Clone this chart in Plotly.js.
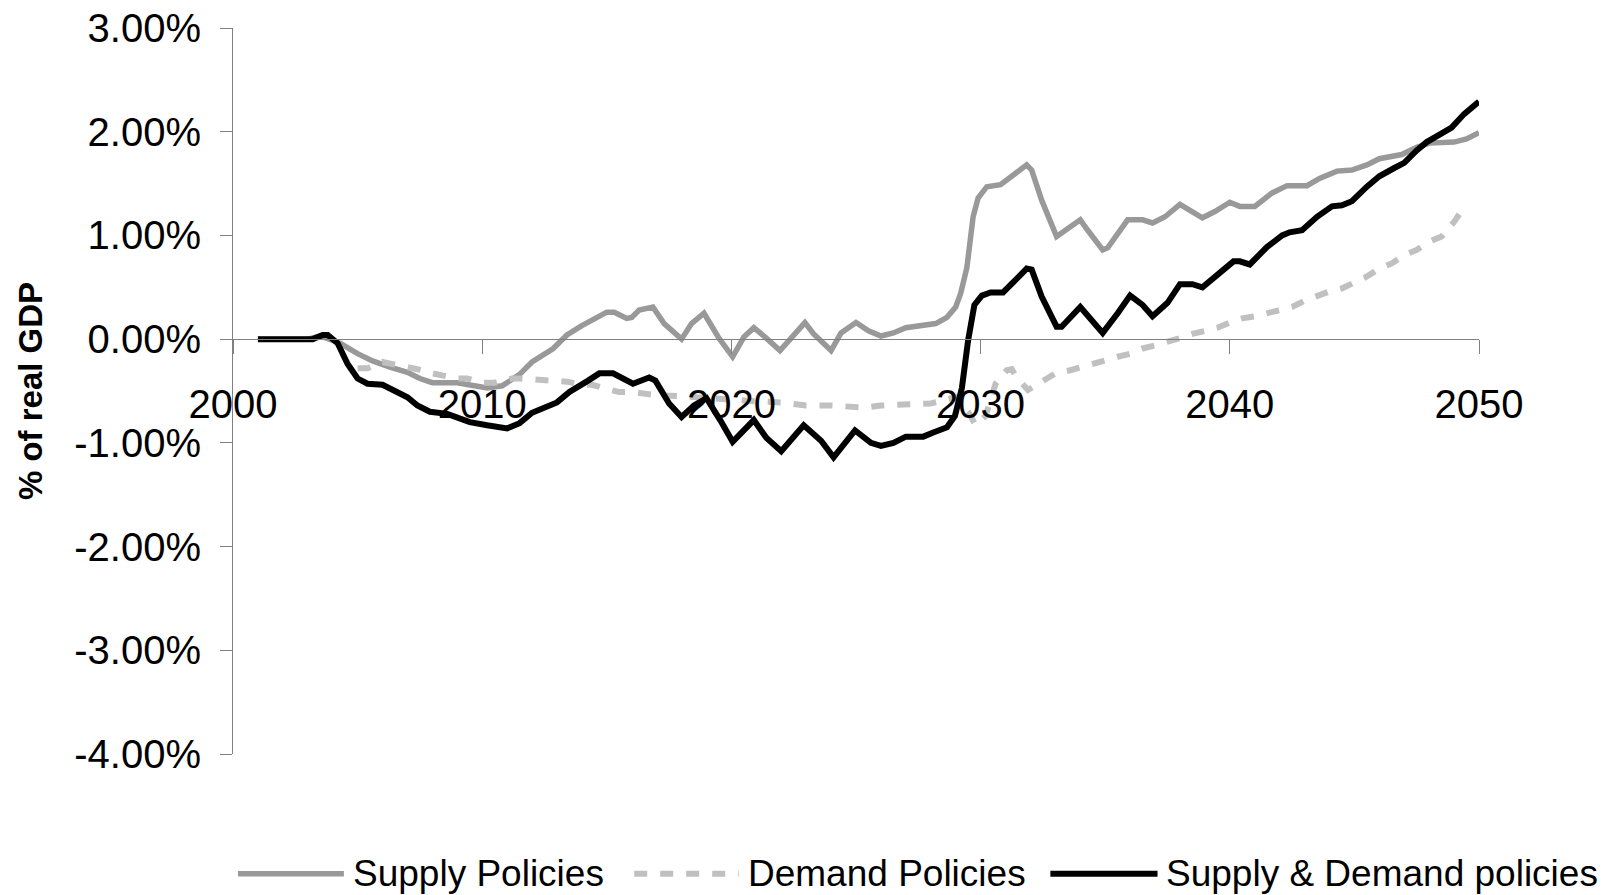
<!DOCTYPE html>
<html>
<head>
<meta charset="utf-8">
<script src="https://cdn.plot.ly/plotly-3.0.1.min.js"></script>
<style>
  html, body { margin: 0; padding: 0; background: #ffffff; }
  #chart { width: 1608px; height: 895px; }
</style>
</head>
<body>
<div id="chart"></div>
<script>
// ---- Data (values in % of real GDP) ----
const seriesNames = ["Supply Policies", "Demand Policies", "Supply & Demand policies"];

const supplyYears = [2001, 2002, 2003, 2003.5, 2003.9, 2004.3, 2005.0, 2005.6, 2006.3, 2007.0, 2007.5, 2008.0, 2009.0, 2009.6, 2010.2, 2010.8, 2011.5, 2012.0, 2012.85, 2013.4, 2014.0, 2015.0, 2015.3, 2015.8, 2016.0, 2016.3, 2016.85, 2017.3, 2018.0, 2018.4, 2018.9, 2019.5, 2020.05, 2020.5, 2020.9, 2021.4, 2021.95, 2022.95, 2023.3, 2024.0, 2024.4, 2025.0, 2025.5, 2026.0, 2026.5, 2027.0, 2027.7, 2028.2, 2028.65, 2029.0, 2029.2, 2029.45, 2029.7, 2029.9, 2030.25, 2030.8, 2031.3, 2031.85, 2032.05, 2032.45, 2033.05, 2033.5, 2034.0, 2034.3, 2034.9, 2035.1, 2035.9, 2036.5, 2036.9, 2037.4, 2038.0, 2038.9, 2039.4, 2040.0, 2040.4, 2041.0, 2041.7, 2042.3, 2043.1, 2043.6, 2044.3, 2044.9, 2045.5, 2046.0, 2046.9, 2047.5, 2048.0, 2049.0, 2049.5, 2050.0];
const supplyValues = [0, 0, 0, 0.03, 0.0, -0.04, -0.14, -0.21, -0.27, -0.32, -0.38, -0.42, -0.42, -0.44, -0.47, -0.45, -0.34, -0.22, -0.09, 0.04, 0.13, 0.26, 0.26, 0.20, 0.21, 0.28, 0.31, 0.15, 0.00, 0.15, 0.25, 0.01, -0.17, 0.02, 0.11, 0.01, -0.11, 0.16, 0.05, -0.11, 0.06, 0.16, 0.08, 0.03, 0.06, 0.11, 0.13, 0.15, 0.21, 0.31, 0.44, 0.69, 1.18, 1.36, 1.47, 1.49, 1.58, 1.68, 1.63, 1.34, 0.99, 1.07, 1.15, 1.05, 0.86, 0.88, 1.15, 1.15, 1.12, 1.18, 1.30, 1.17, 1.23, 1.32, 1.28, 1.28, 1.41, 1.48, 1.48, 1.55, 1.62, 1.63, 1.68, 1.74, 1.78, 1.85, 1.89, 1.90, 1.93, 1.99];

const demandYears = [2005.0, 2005.4, 2006.0, 2006.5, 2007.0, 2007.4, 2008.0, 2008.4, 2009.0, 2009.4, 2010.0, 2010.5, 2011.2, 2011.5, 2012.0, 2012.4, 2012.9, 2013.4, 2014.0, 2014.4, 2015.0, 2015.5, 2016.0, 2017.0, 2018.0, 2019.0, 2020.0, 2021.0, 2022.0, 2022.4, 2023.0, 2024.0, 2025.0, 2025.4, 2026.0, 2027.0, 2028.0, 2028.5, 2029.0, 2029.5, 2029.8, 2030.2, 2030.6, 2030.8, 2031.05, 2031.25, 2031.45, 2031.9, 2032.4, 2033.0, 2033.6, 2034.0, 2034.5, 2035.0, 2035.5, 2036.0, 2036.5, 2037.0, 2037.5, 2038.0, 2038.5, 2039.0, 2039.5, 2040.0, 2040.5, 2041.0, 2041.5, 2042.0, 2042.5, 2043.0, 2043.5, 2044.0, 2044.5, 2045.0, 2045.4, 2046.0, 2046.5, 2047.0, 2047.5, 2048.0, 2048.5, 2049.0, 2049.25];
const demandValues = [-0.28, -0.28, -0.22, -0.24, -0.26, -0.29, -0.33, -0.35, -0.38, -0.38, -0.42, -0.42, -0.38, -0.38, -0.39, -0.39, -0.41, -0.41, -0.44, -0.44, -0.48, -0.51, -0.51, -0.54, -0.55, -0.57, -0.59, -0.60, -0.61, -0.62, -0.64, -0.64, -0.66, -0.66, -0.64, -0.63, -0.62, -0.59, -0.56, -0.70, -0.83, -0.74, -0.43, -0.37, -0.30, -0.29, -0.37, -0.49, -0.42, -0.33, -0.30, -0.27, -0.23, -0.20, -0.17, -0.14, -0.09, -0.06, -0.03, 0.01, 0.05, 0.08, 0.11, 0.16, 0.20, 0.22, 0.25, 0.29, 0.31, 0.37, 0.42, 0.46, 0.49, 0.54, 0.59, 0.68, 0.73, 0.81, 0.86, 0.94, 0.99, 1.13, 1.22];

const bothYears = [2001, 2002, 2003, 2003.2, 2003.6, 2003.8, 2004.2, 2004.6, 2005.0, 2005.4, 2006.0, 2006.6, 2007.0, 2007.4, 2007.9, 2008.6, 2009.0, 2009.5, 2010.2, 2011.0, 2011.5, 2012.0, 2013.0, 2013.5, 2014.25, 2014.7, 2015.25, 2016.05, 2016.7, 2016.95, 2017.5, 2018.0, 2018.5, 2019.0, 2019.55, 2020.05, 2020.9, 2021.4, 2022.0, 2022.9, 2023.6, 2024.1, 2024.96, 2025.6, 2026.0, 2026.5, 2027.0, 2027.7, 2028.1, 2028.65, 2028.97, 2029.25, 2029.5, 2029.75, 2030.05, 2030.4, 2030.9, 2031.4, 2031.85, 2032.05, 2032.45, 2033.05, 2033.25, 2034.0, 2034.5, 2034.9, 2035.5, 2036.0, 2036.5, 2036.9, 2037.5, 2038.0, 2038.5, 2038.9, 2039.5, 2040.15, 2040.4, 2040.8, 2041.5, 2042.1, 2042.4, 2042.9, 2043.5, 2044.1, 2044.5, 2044.9, 2045.5, 2046.0, 2046.6, 2047.0, 2047.5, 2047.9, 2048.4, 2048.9, 2049.4, 2050.0];
const bothValues = [0, 0, 0, 0, 0.04, 0.04, -0.04, -0.24, -0.38, -0.43, -0.44, -0.51, -0.56, -0.64, -0.70, -0.72, -0.75, -0.80, -0.83, -0.86, -0.81, -0.71, -0.61, -0.51, -0.40, -0.33, -0.33, -0.43, -0.37, -0.40, -0.62, -0.75, -0.64, -0.57, -0.78, -0.99, -0.78, -0.95, -1.08, -0.83, -0.98, -1.14, -0.88, -1.00, -1.03, -1.00, -0.94, -0.94, -0.90, -0.85, -0.74, -0.47, -0.01, 0.33, 0.42, 0.45, 0.45, 0.57, 0.68, 0.67, 0.41, 0.12, 0.12, 0.31, 0.18, 0.06, 0.25, 0.42, 0.33, 0.22, 0.35, 0.53, 0.53, 0.50, 0.62, 0.75, 0.75, 0.72, 0.89, 1.00, 1.03, 1.05, 1.18, 1.28, 1.29, 1.33, 1.47, 1.57, 1.65, 1.70, 1.82, 1.90, 1.97, 2.04, 2.17, 2.29];

const xTickVals = [2000, 2010, 2020, 2030, 2040, 2050];
const xTickText = ["2000", "2010", "2020", "2030", "2040", "2050"];
const yTickVals = [-4, -3, -2, -1, 0, 1, 2, 3];
const yTickText = ["-4.00%", "-3.00%", "-2.00%", "-1.00%", "0.00%", "1.00%", "2.00%", "3.00%"];
const yAxisTitle = "% of real GDP";

// ---- Styles ----
const FONT = "Liberation Sans, Arial, Helvetica, sans-serif";
const colors = ["#999999", "#c0c0c0", "#000000"];
const dashes = ["solid", "13px,13px", "solid"];
const widths = [5.5, 6, 6];

const xs = [supplyYears, demandYears, bothYears];
const ys = [supplyValues, demandValues, bothValues];

const traces = seriesNames.map((name, i) => ({
  type: "scatter",
  mode: "lines",
  name: name,
  x: xs[i],
  y: ys[i],
  line: { color: colors[i], width: widths[i], dash: dashes[i], shape: "linear" },
  showlegend: false,
  hoverinfo: "skip"
}));

// Custom legend (long sample lines like the original)
const legendRowY = -0.165;
const legendLines = [[0.004, 0.089], [0.322, 0.406], [0.656, 0.742]];
const legendTextX = [0.095, 0.412, 0.747];
const shapes = legendLines.map((seg, i) => ({
  type: "line", xref: "paper", yref: "paper",
  x0: seg[0], x1: seg[1], y0: legendRowY, y1: legendRowY,
  line: { color: colors[i], width: widths[i], dash: dashes[i] }
}));
const annotations = seriesNames.map((name, i) => ({
  xref: "paper", yref: "paper", x: legendTextX[i], y: legendRowY,
  xanchor: "left", yanchor: "middle", showarrow: false,
  text: name, font: { family: FONT, size: 37, color: "#000000" }
}));

const layout = {
  width: 1608,
  height: 895,
  margin: { l: 233, r: 129, t: 28, b: 141, pad: 0 },
  paper_bgcolor: "#ffffff",
  plot_bgcolor: "#ffffff",
  showlegend: false,
  font: { family: FONT, color: "#000000" },
  xaxis: {
    range: [2000, 2050],
    anchor: "free",
    position: 4 / 7,
    tickmode: "array",
    tickvals: xTickVals,
    ticktext: xTickText,
    ticks: "outside",
    ticklen: 14,
    tickwidth: 1,
    tickcolor: "#808080",
    showline: true,
    linecolor: "#808080",
    linewidth: 1,
    showgrid: false,
    zeroline: false,
    ticklabelstandoff: 16,
    tickfont: { family: FONT, size: 40, color: "#000000" },
    automargin: false,
    layer: "above traces"
  },
  yaxis: {
    range: [-4, 3],
    tickmode: "array",
    tickvals: yTickVals,
    ticktext: yTickText,
    ticks: "outside",
    ticklen: 12,
    tickwidth: 1,
    tickcolor: "#808080",
    showline: true,
    linecolor: "#808080",
    linewidth: 1,
    showgrid: false,
    zeroline: false,
    ticklabelstandoff: 11,
    tickfont: { family: FONT, size: 40, color: "#000000" },
    title: { text: "<b>" + yAxisTitle + "</b>", font: { family: FONT, size: 33, color: "#000000" }, standoff: 21 },
    automargin: false
  },
  shapes: shapes,
  annotations: annotations
};

Plotly.newPlot("chart", traces, layout, { displayModeBar: false, staticPlot: true });
</script>
</body>
</html>
